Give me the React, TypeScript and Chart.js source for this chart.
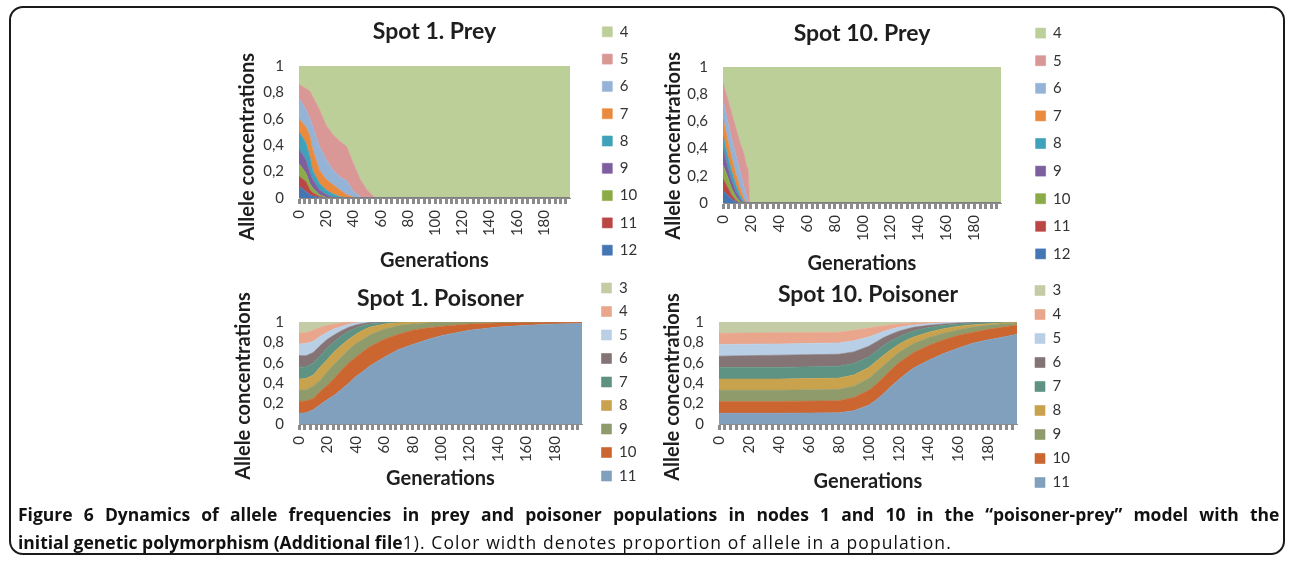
import React, { useEffect, useRef } from 'react';
import { Chart, registerables } from 'chart.js';

Chart.register(...registerables);

// ---------- shared labels ----------
const Y_TICK_LABELS = ['0', '0,2', '0,4', '0,6', '0,8', '1'];
const X_TICK_LABELS = ['0', '20', '40', '60', '80', '100', '120', '140', '160', '180'];
const Y_TITLE = 'Allele concentrations';
const X_TITLE = 'Generations';

// ---------- Spot 1. Prey ----------
const PREY1_GENS = [0, 5, 8, 10, 15, 20, 25, 30, 35, 40, 45, 50, 55, 58, 199];
const PREY1_A12 = [0.09, 0.05, 0.025, 0.015, 0.003, 0, 0, 0, 0, 0, 0, 0, 0, 0, 0];
const PREY1_A11 = [0.075, 0.075, 0.035, 0.025, 0.009, 0, 0, 0, 0, 0, 0, 0, 0, 0, 0];
const PREY1_A10 = [0.095, 0.065, 0.05, 0.035, 0.013, 0.005, 0, 0, 0, 0, 0, 0, 0, 0, 0];
const PREY1_A9 = [0.11, 0.1, 0.08, 0.065, 0.035, 0.02, 0.005, 0, 0, 0, 0, 0, 0, 0, 0];
const PREY1_A8 = [0.13, 0.13, 0.12, 0.07, 0.05, 0.035, 0.025, 0.01, 0, 0, 0, 0, 0, 0, 0];
const PREY1_A7 = [0.1, 0.12, 0.16, 0.16, 0.1, 0.08, 0.07, 0.05, 0.025, 0.005, 0, 0, 0, 0, 0];
const PREY1_A6 = [0.16, 0.13, 0.13, 0.17, 0.18, 0.15, 0.11, 0.1, 0.105, 0.045, 0.01, 0, 0, 0, 0];
const PREY1_A5 = [0.1, 0.16, 0.21, 0.23, 0.28, 0.26, 0.27, 0.27, 0.26, 0.21, 0.13, 0.06, 0.01, 0, 0];
const PREY1_A4 = [0.14, 0.17, 0.19, 0.23, 0.33, 0.45, 0.52, 0.57, 0.61, 0.74, 0.86, 0.94, 0.99, 1, 1];

// ---------- Spot 10. Prey ----------
const PREY10_GENS = [0, 3, 6, 9, 12, 15, 17, 18, 19, 199];
const PREY10_A12 = [0.09, 0.06, 0.03, 0.01, 0, 0, 0, 0, 0, 0];
const PREY10_A11 = [0.09, 0.06, 0.03, 0.01, 0, 0, 0, 0, 0, 0];
const PREY10_A10 = [0.1, 0.08, 0.05, 0.03, 0.01, 0, 0, 0, 0, 0];
const PREY10_A9 = [0.12, 0.08, 0.06, 0.04, 0.02, 0, 0, 0, 0, 0];
const PREY10_A8 = [0.1, 0.08, 0.07, 0.05, 0.03, 0.01, 0, 0, 0, 0];
const PREY10_A7 = [0.12, 0.12, 0.1, 0.08, 0.06, 0.02, 0, 0, 0, 0];
const PREY10_A6 = [0.14, 0.14, 0.14, 0.14, 0.12, 0.09, 0.05, 0, 0, 0];
const PREY10_A5 = [0.12, 0.16, 0.19, 0.2, 0.21, 0.24, 0.22, 0.25, 0, 0];
const PREY10_A4 = [0.12, 0.22, 0.33, 0.44, 0.55, 0.64, 0.73, 0.75, 1, 1];

// ---------- Spot 1. Poisoner ----------
const POIS1_GENS = [0, 5, 10, 15, 20, 25, 30, 35, 40, 45, 50, 60, 70, 80, 90, 100, 120, 140, 160, 180, 199];
const POIS1_A11 = [0.105, 0.11, 0.14, 0.19, 0.24, 0.285, 0.34, 0.4, 0.465, 0.515, 0.57, 0.655, 0.73, 0.78, 0.826, 0.866, 0.92, 0.95, 0.967, 0.98, 0.985];
const POIS1_A10 = [0.115, 0.116, 0.11, 0.13, 0.14, 0.165, 0.19, 0.2, 0.19, 0.195, 0.19, 0.175, 0.15, 0.14, 0.114, 0.091, 0.06, 0.04, 0.026, 0.015, 0.012];
const POIS1_A9 = [0.11, 0.109, 0.12, 0.11, 0.135, 0.14, 0.13, 0.13, 0.135, 0.12, 0.115, 0.1, 0.085, 0.06, 0.05, 0.038, 0.02, 0.01, 0.007, 0.005, 0.003];
const POIS1_A8 = [0.11, 0.112, 0.11, 0.13, 0.12, 0.12, 0.115, 0.1, 0.09, 0.09, 0.075, 0.05, 0.028, 0.02, 0.01, 0.005, 0, 0, 0, 0, 0];
const POIS1_A7 = [0.115, 0.113, 0.115, 0.11, 0.11, 0.1, 0.09, 0.08, 0.06, 0.045, 0.03, 0.015, 0.007, 0, 0, 0, 0, 0, 0, 0, 0];
const POIS1_A6 = [0.115, 0.11, 0.105, 0.1, 0.085, 0.065, 0.05, 0.038, 0.03, 0.02, 0.015, 0.005, 0, 0, 0, 0, 0, 0, 0, 0, 0];
const POIS1_A5 = [0.115, 0.12, 0.11, 0.09, 0.07, 0.06, 0.042, 0.029, 0.02, 0.012, 0.005, 0, 0, 0, 0, 0, 0, 0, 0, 0, 0];
const POIS1_A4 = [0.105, 0.105, 0.11, 0.088, 0.067, 0.045, 0.033, 0.02, 0.01, 0.003, 0, 0, 0, 0, 0, 0, 0, 0, 0, 0, 0];
const POIS1_A3 = [0.11, 0.105, 0.08, 0.052, 0.033, 0.02, 0.01, 0.003, 0, 0, 0, 0, 0, 0, 0, 0, 0, 0, 0, 0, 0];

// ---------- Spot 10. Poisoner ----------
const POIS10_GENS = [0, 40, 80, 90, 100, 105, 110, 115, 120, 125, 130, 140, 150, 160, 170, 180, 190, 199];
const POIS10_A11 = [0.105, 0.105, 0.11, 0.13, 0.185, 0.235, 0.3, 0.37, 0.435, 0.495, 0.55, 0.625, 0.69, 0.745, 0.795, 0.825, 0.853, 0.88];
const POIS10_A10 = [0.115, 0.115, 0.118, 0.13, 0.145, 0.155, 0.16, 0.165, 0.165, 0.155, 0.15, 0.145, 0.135, 0.125, 0.105, 0.103, 0.097, 0.087];
const POIS10_A9 = [0.11, 0.11, 0.112, 0.11, 0.116, 0.12, 0.117, 0.105, 0.1, 0.095, 0.09, 0.077, 0.065, 0.055, 0.05, 0.042, 0.034, 0.023];
const POIS10_A8 = [0.11, 0.11, 0.11, 0.11, 0.107, 0.105, 0.098, 0.09, 0.08, 0.075, 0.063, 0.053, 0.045, 0.033, 0.024, 0.014, 0.009, 0.007];
const POIS10_A7 = [0.115, 0.115, 0.117, 0.113, 0.105, 0.098, 0.095, 0.085, 0.073, 0.066, 0.059, 0.045, 0.032, 0.022, 0.016, 0.011, 0.005, 0.003];
const POIS10_A6 = [0.11, 0.12, 0.117, 0.114, 0.104, 0.092, 0.077, 0.065, 0.056, 0.044, 0.036, 0.022, 0.013, 0.01, 0.005, 0.003, 0.002, 0];
const POIS10_A5 = [0.115, 0.11, 0.111, 0.108, 0.091, 0.075, 0.062, 0.05, 0.039, 0.03, 0.022, 0.017, 0.012, 0.006, 0.003, 0.002, 0, 0];
const POIS10_A4 = [0.11, 0.11, 0.105, 0.103, 0.087, 0.074, 0.055, 0.044, 0.032, 0.025, 0.02, 0.011, 0.006, 0.004, 0.002, 0, 0, 0];
const POIS10_A3 = [0.11, 0.105, 0.1, 0.082, 0.06, 0.046, 0.036, 0.026, 0.02, 0.015, 0.01, 0.005, 0.002, 0, 0, 0, 0, 0];

// ---------- colours ----------
const PREY_COLORS: Record<string, string> = {
  '4': '#bccf98', '5': '#d99795', '6': '#95b3d7', '7': '#e98a3e', '8': '#3fa1ba',
  '9': '#7d5fa0', '10': '#8aab47', '11': '#bb4744', '12': '#4576b4',
};
const POIS_COLORS: Record<string, string> = {
  '3': '#c4cca6', '4': '#e9a68c', '5': '#b9cfe6', '6': '#857475', '7': '#5e9283',
  '8': '#c8a24d', '9': '#8f9b6b', '10': '#cb6631', '11': '#81a0bd',
};

type Series = { label: string; values: number[] };

// bottom of stack first
const PREY1_SERIES: Series[] = [
  { label: '12', values: PREY1_A12 }, { label: '11', values: PREY1_A11 }, { label: '10', values: PREY1_A10 },
  { label: '9', values: PREY1_A9 }, { label: '8', values: PREY1_A8 }, { label: '7', values: PREY1_A7 },
  { label: '6', values: PREY1_A6 }, { label: '5', values: PREY1_A5 }, { label: '4', values: PREY1_A4 },
];
const PREY10_SERIES: Series[] = [
  { label: '12', values: PREY10_A12 }, { label: '11', values: PREY10_A11 }, { label: '10', values: PREY10_A10 },
  { label: '9', values: PREY10_A9 }, { label: '8', values: PREY10_A8 }, { label: '7', values: PREY10_A7 },
  { label: '6', values: PREY10_A6 }, { label: '5', values: PREY10_A5 }, { label: '4', values: PREY10_A4 },
];
const POIS1_SERIES: Series[] = [
  { label: '11', values: POIS1_A11 }, { label: '10', values: POIS1_A10 }, { label: '9', values: POIS1_A9 },
  { label: '8', values: POIS1_A8 }, { label: '7', values: POIS1_A7 }, { label: '6', values: POIS1_A6 },
  { label: '5', values: POIS1_A5 }, { label: '4', values: POIS1_A4 }, { label: '3', values: POIS1_A3 },
];
const POIS10_SERIES: Series[] = [
  { label: '11', values: POIS10_A11 }, { label: '10', values: POIS10_A10 }, { label: '9', values: POIS10_A9 },
  { label: '8', values: POIS10_A8 }, { label: '7', values: POIS10_A7 }, { label: '6', values: POIS10_A6 },
  { label: '5', values: POIS10_A5 }, { label: '4', values: POIS10_A4 }, { label: '3', values: POIS10_A3 },
];

const FONT = 'Lato, "Open Sans", sans-serif';

const yTitlePlugin = {
  id: 'yTitle',
  afterDraw(chart: any, _args: any, opts: any) {
    const { ctx, chartArea } = chart;
    ctx.save();
    ctx.translate(chartArea.left - opts.dx, chartArea.top + opts.dy);
    ctx.rotate(-Math.PI / 2);
    ctx.font = `bold ${opts.size}px ${FONT}`;
    ctx.fillStyle = opts.color;
    ctx.textAlign = 'center';
    ctx.textBaseline = 'middle';
    ctx.fillText(opts.text, 0, 0);
    ctx.restore();
  },
};

type PanelCfg = {
  title: string;
  gens: number[];
  series: Series[];
  colors: Record<string, string>;
  left: number; top: number; w: number; h: number;
  yAxisW: number; gapW: number; xAxisH: number;
  legendPad: number; titlePadTop: number; titlePadBottom: number;
  xTitlePadBottom: number; yTitleDx: number; yTitleDy: number;
};

function buildConfig(p: PanelCfg): any {
  const tickFont = { family: FONT, size: 15 };
  return {
    type: 'line',
    data: {
      datasets: p.series.map((s, i) => ({
        label: s.label,
        data: p.gens.map((g, j) => ({ x: g, y: s.values[j] })),
        backgroundColor: p.colors[s.label],
        borderColor: p.colors[s.label],
        borderWidth: 0.6,
        fill: i === 0 ? 'origin' : '-1',
        pointRadius: 0,
        tension: 0,
        yAxisID: 'y',
      })),
    },
    plugins: [yTitlePlugin],
    options: {
      animation: false,
      responsive: false,
      maintainAspectRatio: false,
      events: [],
      layout: { padding: 0 },
      plugins: {
        title: {
          display: true,
          text: p.title,
          fullSize: false,
          font: { family: FONT, size: 23, weight: 'bold' },
          color: '#1e1e1e',
          padding: { top: p.titlePadTop, bottom: p.titlePadBottom },
        },
        legend: {
          position: 'right',
          align: 'start',
          reverse: true,
          maxWidth: 50,
          labels: {
            boxWidth: 10,
            boxHeight: 10,
            padding: p.legendPad,
            font: { family: FONT, size: 15 },
            color: '#333',
          },
        },
        tooltip: { enabled: false },
        yTitle: { text: Y_TITLE, dx: p.yTitleDx, dy: p.yTitleDy, size: 20, color: '#1e1e1e' },
      },
      scales: {
        x: {
          type: 'linear',
          min: 0,
          max: 199,
          afterFit: (s: any) => { s.height = p.xAxisH; },
          grid: {
            display: true, drawOnChartArea: false, drawTicks: true,
            tickLength: 6, tickWidth: 3, tickColor: '#8c8c8c',
          },
          border: { display: true, color: '#8c8c8c', width: 1 },
          ticks: {
            stepSize: 4, autoSkip: false, includeBounds: false,
            minRotation: 90, maxRotation: 90, padding: 6,
            font: tickFont, color: '#333',
            callback: (v: number) => (v % 20 === 0 ? X_TICK_LABELS[v / 20] ?? '' : ''),
          },
          title: {
            display: true, text: X_TITLE,
            font: { family: FONT, size: 20, weight: 'bold' }, color: '#1e1e1e',
            padding: { top: 0, bottom: p.xTitlePadBottom },
          },
        },
        y: {
          stacked: true,
          min: 0,
          max: 1,
          afterFit: (s: any) => { s.width = p.yAxisW; },
          grid: { display: false, drawTicks: false },
          border: { display: true, color: '#a6a6a6', width: 1 },
          ticks: {
            stepSize: 0.2, padding: 15, autoSkip: false, font: tickFont, color: '#333',
            callback: (_v: number, i: number) => Y_TICK_LABELS[i],
          },
        },
        gap: {
          type: 'linear',
          position: 'right',
          display: true,
          afterFit: (s: any) => { s.width = p.gapW; },
          grid: { display: false, drawTicks: false },
          border: { display: false },
          ticks: { display: false },
        },
      },
    },
  };
}

const PANELS: PanelCfg[] = [
  {
    title: 'Spot 1. Prey', gens: PREY1_GENS, series: PREY1_SERIES, colors: PREY_COLORS,
    left: 228, top: 12, w: 412, h: 268,
    yAxisW: 71, gapW: 20, xAxisH: 82, legendPad: 12.3, titlePadTop: 6.2, titlePadBottom: 20.2,
    xTitlePadBottom: 7, yTitleDx: 51.5, yTitleDy: 80.7,
  },
  {
    title: 'Spot 10. Prey', gens: PREY10_GENS, series: PREY10_SERIES, colors: PREY_COLORS,
    left: 655, top: 13, w: 418, h: 272,
    yAxisW: 68, gapW: 22, xAxisH: 82, legendPad: 12.6, titlePadTop: 6.5, titlePadBottom: 19.9,
    xTitlePadBottom: 9.7, yTitleDx: 49.5, yTitleDy: 78.8,
  },
  {
    title: 'Spot 1. Poisoner', gens: POIS1_GENS, series: POIS1_SERIES, colors: POIS_COLORS,
    left: 228, top: 272, w: 415, h: 228,
    yAxisW: 71, gapW: 11, xAxisH: 76, legendPad: 8.5, titlePadTop: 12.5, titlePadBottom: 9.9,
    xTitlePadBottom: 9.7, yTitleDx: 55, yTitleDy: 64,
  },
  {
    title: 'Spot 10. Poisoner', gens: POIS10_GENS, series: POIS10_SERIES, colors: POIS_COLORS,
    left: 655, top: 274, w: 421, h: 231,
    yAxisW: 64, gapW: 9, xAxisH: 81, legendPad: 9, titlePadTop: 7.2, titlePadBottom: 13.2,
    xTitlePadBottom: 11.3, yTitleDx: 46, yTitleDy: 65,
  },
];

function Panel({ cfg }: { cfg: PanelCfg }) {
  const ref = useRef<HTMLCanvasElement>(null);
  useEffect(() => {
    const chart = new Chart(ref.current as HTMLCanvasElement, buildConfig(cfg));
    return () => chart.destroy();
  }, [cfg]);
  return (
    <canvas
      ref={ref}
      width={cfg.w}
      height={cfg.h}
      style={{ position: 'absolute', left: cfg.left, top: cfg.top, width: cfg.w, height: cfg.h }}
    />
  );
}

export default function App() {
  return (
    <div style={{ position: 'absolute', left: 0, top: 0, width: 1292, height: 562, background: '#fff', overflow: 'hidden' }}>
      <div
        style={{
          position: 'absolute', left: 9, top: 6, width: 1276, height: 549,
          border: '2px solid #1a1a1a', borderRadius: 14, boxSizing: 'border-box',
        }}
      />
      {PANELS.map((p) => (
        <Panel key={p.title} cfg={p} />
      ))}
      <div
        style={{
          position: 'absolute', left: 18, top: 500, fontFamily: '"Open Sans", sans-serif',
          fontSize: 17.5, lineHeight: '28px', whiteSpace: 'nowrap', color: '#111',
        }}
      >
        <b style={{ wordSpacing: '6.6px' }}>Figure 6 Dynamics of allele frequencies in prey and poisoner populations in nodes 1 and 10 in the “poisoner-prey” model with the</b>
        <br />
        <b>initial genetic polymorphism (Additional file</b>
        <span style={{ letterSpacing: '1.1px' }}>1). Color width denotes proportion of allele in a population.</span>
      </div>
    </div>
  );
}
